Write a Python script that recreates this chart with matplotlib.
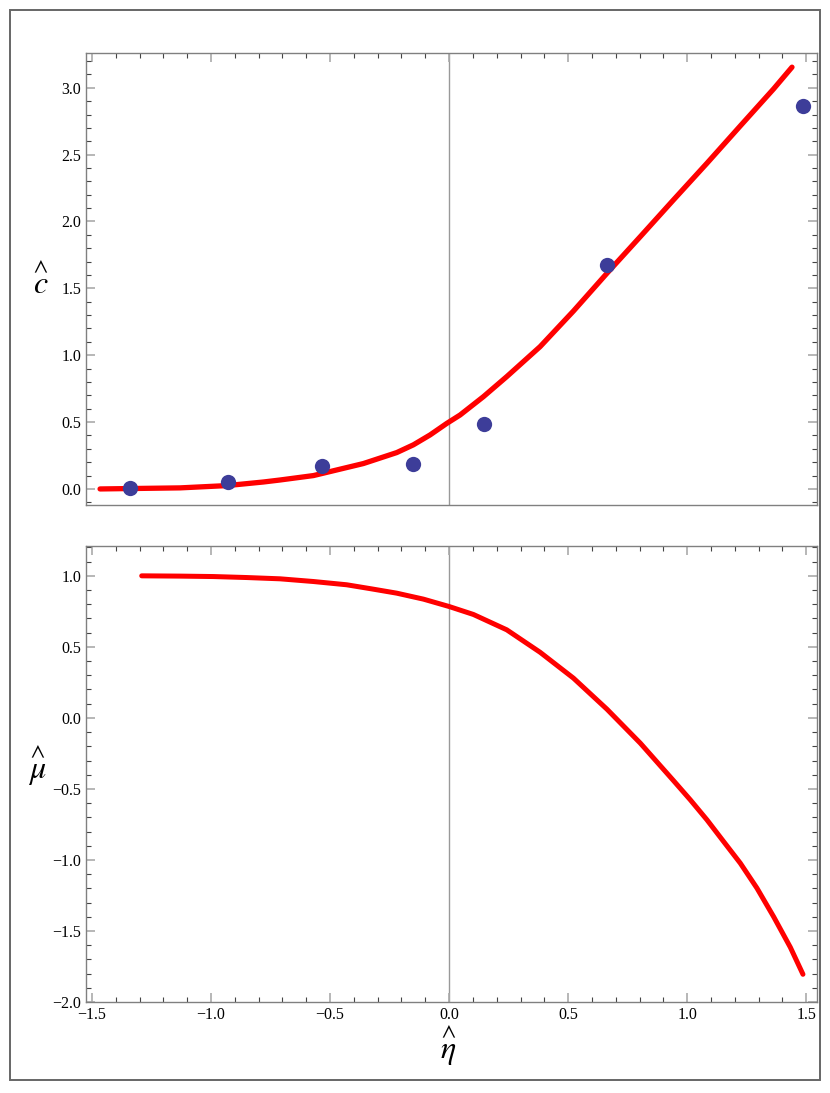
import matplotlib
matplotlib.use("Agg")
import matplotlib.pyplot as plt
from matplotlib.ticker import MultipleLocator, FuncFormatter
from matplotlib.patches import Rectangle

# ---- data ----
eta_pts = [-1.340, -0.930, -0.535, -0.153, 0.148, 0.663, 1.485]
c_pts = [0.01, 0.05, 0.17, 0.185, 0.484, 1.675, 2.867]

eta_c = [-1.466, -1.13, -0.934, -0.78, -0.71, -0.57, -0.36, -0.22, -0.15,
         -0.08, -0.01, 0.046, 0.144, 0.242, 0.382, 0.522, 0.663, 0.803,
         0.942, 1.083, 1.223, 1.363, 1.44]
c_curve = [0.0, 0.008, 0.025, 0.052, 0.067, 0.10, 0.19, 0.272, 0.33,
           0.404, 0.49, 0.553, 0.69, 0.840, 1.064, 1.33, 1.613, 1.887,
           2.161, 2.436, 2.715, 2.992, 3.154]

eta_mu = [-1.291, -1.13, -0.99, -0.85, -0.71, -0.57, -0.43, -0.325, -0.22,
          -0.108, 0.0, 0.102, 0.242, 0.382, 0.522, 0.663, 0.803, 0.942,
          1.013, 1.083, 1.153, 1.223, 1.293, 1.363, 1.433, 1.486]
mu_curve = [1.0, 0.998, 0.995, 0.988, 0.979, 0.96, 0.937, 0.908, 0.878,
            0.836, 0.784, 0.728, 0.62, 0.462, 0.28, 0.061, -0.178, -0.441,
            -0.577, -0.718, -0.871, -1.023, -1.199, -1.40, -1.615, -1.805]

x_ticks = [-1.5, -1.0, -0.5, 0.0, 0.5, 1.0, 1.5]
c_ticks = [0.0, 0.5, 1.0, 1.5, 2.0, 2.5, 3.0]
mu_ticks = [1.0, 0.5, 0.0, -0.5, -1.0, -1.5, -2.0]

# ---- styling ----
plt.rcParams['font.family'] = ['Liberation Serif', 'DejaVu Serif']
plt.rcParams['mathtext.fontset'] = 'stix'
RED = '#ff0000'
BLUE = '#3d3d99'
SPINE = '#808080'

fig = plt.figure(figsize=(8.30, 10.93), dpi=100)
fig.patches.append(Rectangle((10/830, 1 - 1080/1093), 810/830, 1070/1093,
                             transform=fig.transFigure, fill=False,
                             edgecolor='#666666', linewidth=1.4))

ax1 = fig.add_axes([86/830, 1 - 505/1093, 731/830, 452/1093])
ax2 = fig.add_axes([86/830, 1 - 1002/1093, 731/830, 456/1093])


def fmt(v, pos):
    s = f'{v:.1f}'
    if s == '-0.0':
        s = '0.0'
    return s.replace('-', '\u2212')


def style(ax, bottom_ticks=True):
    for s in ax.spines.values():
        s.set_color(SPINE)
        s.set_linewidth(1.0)
    ax.xaxis.set_major_locator(MultipleLocator(0.5))
    ax.xaxis.set_minor_locator(MultipleLocator(0.1))
    ax.yaxis.set_major_locator(MultipleLocator(0.5))
    ax.yaxis.set_minor_locator(MultipleLocator(0.1))
    ax.yaxis.set_major_formatter(FuncFormatter(fmt))
    ax.xaxis.set_major_formatter(FuncFormatter(fmt))
    ax.tick_params(which='major', direction='in', length=6.5, width=1.2,
                   color='#aaaaaa', labelsize=11.5, labelcolor='black',
                   top=True, right=True, bottom=bottom_ticks, left=True)
    ax.tick_params(which='minor', direction='in', length=3.8, width=0.8,
                   color='#444444', top=True, right=True,
                   bottom=bottom_ticks, left=True)
    ax.axvline(0.0, color='#999999', linewidth=1.0, zorder=1)


# top panel
ax1.plot(eta_c, c_curve, color=RED, linewidth=3.8, solid_capstyle='round',
         solid_joinstyle='round', zorder=2)
ax1.plot(eta_pts, c_pts, 'o', color=BLUE, markersize=11, markeredgewidth=0,
         zorder=3)
ax1.set_xlim(-1.525, 1.545)
ax1.set_ylim(-0.12, 3.26)
style(ax1, bottom_ticks=False)
ax1.set_xticks(x_ticks)
ax1.set_yticks(c_ticks)
ax1.tick_params(labelbottom=False)

# bottom panel
ax2.plot(eta_mu, mu_curve, color=RED, linewidth=3.6, solid_capstyle='round',
         solid_joinstyle='round', zorder=2)
ax2.set_xlim(-1.525, 1.545)
ax2.set_ylim(-2.0, 1.21)
style(ax2)
ax2.set_xticks(x_ticks)
ax2.set_yticks(mu_ticks)

# axis labels (hat above the letter, Mathematica style)
fig.text(41/830, 1 - 282/1093, r'$\overset{\wedge}{c}$', fontsize=23,
         ha='center', va='center')
fig.text(37/830, 1 - 766/1093, r'$\overset{\wedge}{\mu}$', fontsize=23,
         ha='center', va='center')
fig.text(448/830, 1 - 1046/1093, r'$\overset{\wedge}{\eta}$', fontsize=23,
         ha='center', va='center')

fig.savefig('out.png', dpi=100)
